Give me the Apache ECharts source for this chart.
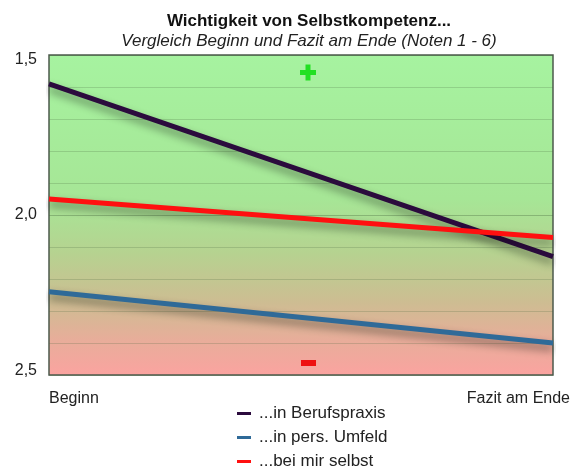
<!DOCTYPE html>
<html><head><meta charset="utf-8">
<script src="https://cdn.jsdelivr.net/npm/echarts@6/dist/echarts.min.js"></script>
<style>html,body{margin:0;padding:0;background:#fff}#c{width:580px;height:475px}</style>
</head><body><div id="c"></div>
<script>
var categories = ['Beginn', 'Fazit am Ende'];
var seriesNames = ['...in Berufspraxis', '...in pers. Umfeld', '...bei mir selbst'];
var berufspraxis = [1.59, 2.13];
var persUmfeld = [2.24, 2.40];
var mirSelbst = [1.95, 2.07];
var yTicks = [1.5, 2.0, 2.5];
var colors = ['#2b0b3d', '#2f6a98', '#ff1010'];

var chart = echarts.init(document.getElementById('c'), null, {renderer: 'canvas'});
function lineSeries(name, data, color) {
  return {
    name: name, type: 'line', data: data, symbol: 'none',
    lineStyle: {width: 5, color: color, shadowColor: 'rgba(0,0,0,0.45)', shadowBlur: 8, shadowOffsetY: 5},
    itemStyle: {color: color}
  };
}
chart.setOption({
  animation: false,
  title: {
    text: 'Wichtigkeit von Selbstkompetenz...',
    subtext: 'Vergleich Beginn und Fazit am Ende (Noten 1 - 6)',
    left: 304, top: 8, textAlign: 'center', itemGap: 3,
    textStyle: {fontFamily: 'Liberation Sans', fontSize: 17, fontWeight: 'bold', color: '#111'},
    subtextStyle: {fontFamily: 'Liberation Sans', fontSize: 17, fontStyle: 'italic', color: '#222'}
  },
  grid: {
    left: 49, right: 27, top: 55, bottom: 100, show: true, borderColor: '#4c5a4c', borderWidth: 1.5,
    backgroundColor: new echarts.graphic.LinearGradient(0, 0, 0, 1, [
      {offset: 0, color: '#a6f3a0'},
      {offset: 0.45, color: '#a6e696'},
      {offset: 0.62, color: '#b6d290'},
      {offset: 0.77, color: '#cdbd92'},
      {offset: 0.89, color: '#e8ad9a'},
      {offset: 1, color: '#fba3a0'}
    ])
  },
  legend: {
    orient: 'vertical', left: 232, top: 400, itemGap: 7,
    icon: 'rect', itemWidth: 14, itemHeight: 3,
    textStyle: {fontFamily: 'Liberation Sans', fontSize: 17, color: '#222', padding: [0,0,0,3]},
    data: seriesNames
  },
  xAxis: {
    type: 'category', boundaryGap: false,
    data: [
      {value: categories[0], textStyle: {align: 'left'}},
      {value: categories[1], textStyle: {align: 'right', padding: [0, -17, 0, 0]}}
    ],
    axisLine: {show: false}, axisTick: {show: false}, splitLine: {show: false},
    axisLabel: {margin: 16, fontFamily: 'Liberation Sans', fontSize: 16, color: '#222'}
  },
  yAxis: {
    type: 'value', inverse: true, min: yTicks[0], max: yTicks[yTicks.length - 1], interval: 0.5,
    axisLine: {show: false}, axisTick: {show: false},
    axisLabel: {margin: 12, fontFamily: 'Liberation Sans', fontSize: 16, color: '#222',
      formatter: function (v) {
        var s = v.toFixed(1).replace('.', ',');
        if (v === yTicks[0]) return '{t|' + s + '}';
        if (v === yTicks[yTicks.length - 1]) return '{b|' + s + '}';
        return '{m|' + s + '}';
      },
      rich: {
        t: {fontFamily: 'Liberation Sans', fontSize: 16, color: '#222', padding: [10, 0, 0, 0]},
        m: {fontFamily: 'Liberation Sans', fontSize: 16, color: '#222'},
        b: {fontFamily: 'Liberation Sans', fontSize: 16, color: '#222', padding: [0, 0, 8, 0]}
      }},
    splitLine: {show: true, lineStyle: {color: 'rgba(70,100,60,0.35)', width: 1}},
    minorTick: {show: false, splitNumber: 5},
    minorSplitLine: {show: true, lineStyle: {color: 'rgba(70,100,60,0.22)', width: 1}}
  },
  graphic: [
    {type: 'rect', left: 300, top: 70, shape: {width: 16, height: 5}, style: {fill: '#22e022'}},
    {type: 'rect', left: 305.5, top: 64.5, shape: {width: 5, height: 16}, style: {fill: '#22e022'}},
    {type: 'rect', left: 301, top: 360, shape: {width: 15, height: 6}, style: {fill: '#ee1111'}}
  ],
  series: [
    lineSeries(seriesNames[0], berufspraxis, colors[0]),
    lineSeries(seriesNames[1], persUmfeld, colors[1]),
    lineSeries(seriesNames[2], mirSelbst, colors[2])
  ]
});
</script></body></html>
